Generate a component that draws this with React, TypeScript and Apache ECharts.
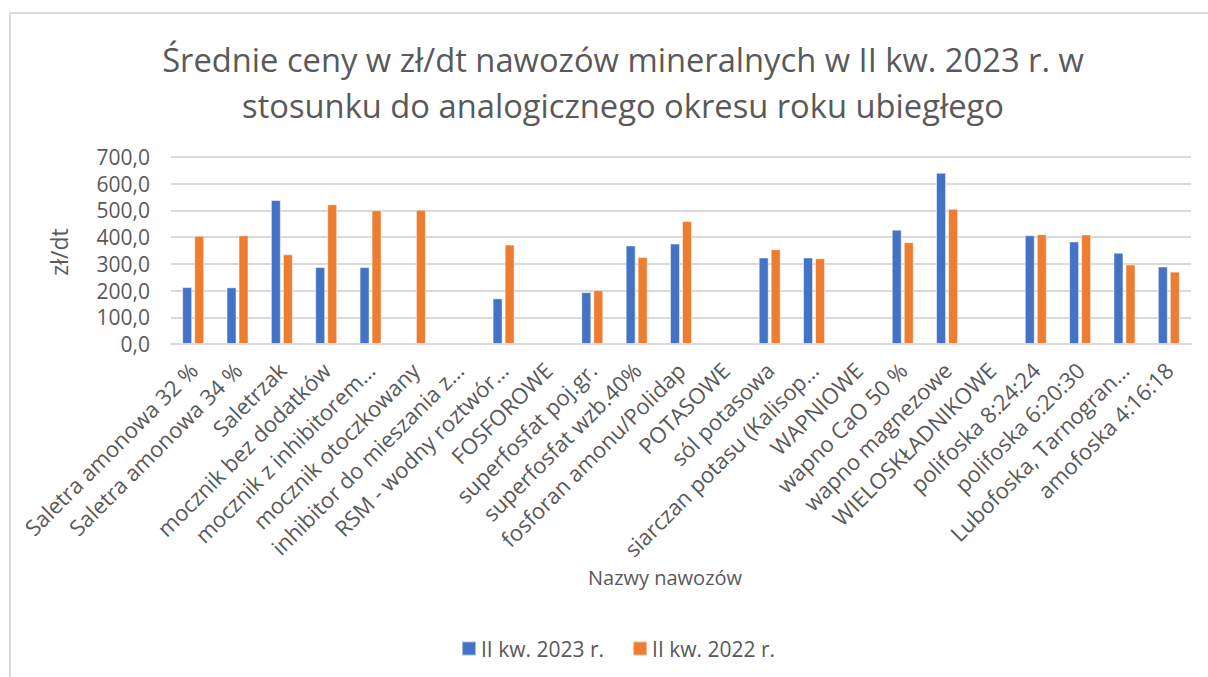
import React, { useEffect, useRef } from "react";
import * as echarts from "echarts";

const categories = [
  "Saletra amonowa 32 %",
  "Saletra amonowa 34 %",
  "Saletrzak",
  "mocznik bez dodatków",
  "mocznik z inhibitorem…",
  "mocznik otoczkowany",
  "inhibitor do mieszania z…",
  "RSM - wodny roztwór…",
  "FOSFOROWE",
  "superfosfat poj.gr.",
  "superfosfat wzb.40%",
  "fosforan amonu/Polidap",
  "POTASOWE",
  "sól potasowa",
  "siarczan potasu (Kalisop…",
  "WAPNIOWE",
  "wapno CaO 50 %",
  "wapno magnezowe",
  "WIELOSKŁADNIKOWE",
  "polifoska 8:24:24",
  "polifoska 6:20:30",
  "Lubofoska, Tarnogran…",
  "amofoska 4:16:18",
];

const series2023: (number | null)[] = [
  213, 212, 539, 288, 288, null, null, 171, null, 194, 369, 376, null, 324, 324, null, 428, 641, null, 407, 384, 342, 290,
];
const series2022: (number | null)[] = [
  405, 407, 336, 523, 501, 503, null, 372, null, 202, 326, 460, null, 355, 321, null, 381, 506, null, 411, 410, 298, 271,
];

const seriesNames = ["II kw. 2023 r.", "II kw. 2022 r."];
const titleText = "Średnie ceny w zł/dt nawozów mineralnych w II kw. 2023 r. w\nstosunku do analogicznego okresu roku ubiegłego";
const yAxisName = "zł/dt";
const xAxisName = "Nazwy nawozów";

const FONT = "'Open Sans', sans-serif";
const GRAY = "#595959";

export default function App() {
  const ref = useRef<HTMLDivElement>(null);
  useEffect(() => {
    document.body.style.margin = "0";
    const chart = echarts.init(ref.current!, null, { renderer: "svg" });
    chart.setOption({
      animation: false,
      backgroundColor: "#ffffff",
      textStyle: { fontFamily: FONT },
      title: {
        text: titleText,
        left: 618,
        top: 31,
        textAlign: "center",
        textStyle: { fontFamily: FONT, fontSize: 32.7, fontWeight: "normal", color: GRAY, lineHeight: 46 },
      },
      legend: {
        left: 456,
        top: 633,
        icon: "rect",
        itemWidth: 14,
        itemHeight: 14,
        itemGap: 28,
        textStyle: { fontFamily: FONT, fontSize: 21, color: GRAY },
        data: seriesNames,
      },
      grid: { left: 171, right: 17, top: 157, bottom: 333, containLabel: false },
      xAxis: {
        type: "category",
        data: categories,
        axisLine: { lineStyle: { color: "#D9D9D9", width: 2 } },
        axisTick: { show: false },
        axisLabel: {
          interval: 0,
          rotate: 45,
          fontSize: 22,
          color: GRAY,
          fontFamily: FONT,
          margin: 22,
        },
      },
      yAxis: {
        type: "value",
        min: 0,
        max: 700,
        interval: 100,
        axisLine: { show: false },
        axisTick: { show: false },
        axisLabel: {
          fontSize: 21,
          color: GRAY,
          fontFamily: FONT,
          margin: 21,
          formatter: (v: number) => v.toFixed(1).replace(".", ","),
        },
        splitLine: { lineStyle: { color: "#D9D9D9", width: 2 } },
      },
      series: [
        {
          name: seriesNames[0],
          type: "bar",
          data: series2023,
          barWidth: 10,
          barGap: "20%",
          itemStyle: { color: "#4472C4", borderColor: "rgba(255,255,255,0.5)", borderWidth: 1 },
        },
        {
          name: seriesNames[1],
          type: "bar",
          data: series2022,
          barWidth: 10,
          barGap: "20%",
          itemStyle: { color: "#ED7D31", borderColor: "rgba(255,255,255,0.5)", borderWidth: 1 },
        },
      ],
      graphic: [
        {
          type: "rect",
          shape: { x: 10, y: 13, width: 1230, height: 700 },
          style: { fill: "none", stroke: "#D9D9D9", lineWidth: 2 },
          silent: true,
        },
        {
          type: "text",
          x: 665,
          y: 577,
          style: { text: xAxisName, fontSize: 20, fill: GRAY, fontFamily: FONT, textAlign: "center", textVerticalAlign: "middle" },
        },
        {
          type: "text",
          x: 59,
          y: 252,
          rotation: Math.PI / 2,
          style: { text: yAxisName, fontSize: 23, fill: GRAY, fontFamily: FONT, textAlign: "center", textVerticalAlign: "middle" },
        },
      ],
    });
    return () => chart.dispose();
  }, []);
  return <div ref={ref} style={{ width: 1208, height: 677 }} />;
}
